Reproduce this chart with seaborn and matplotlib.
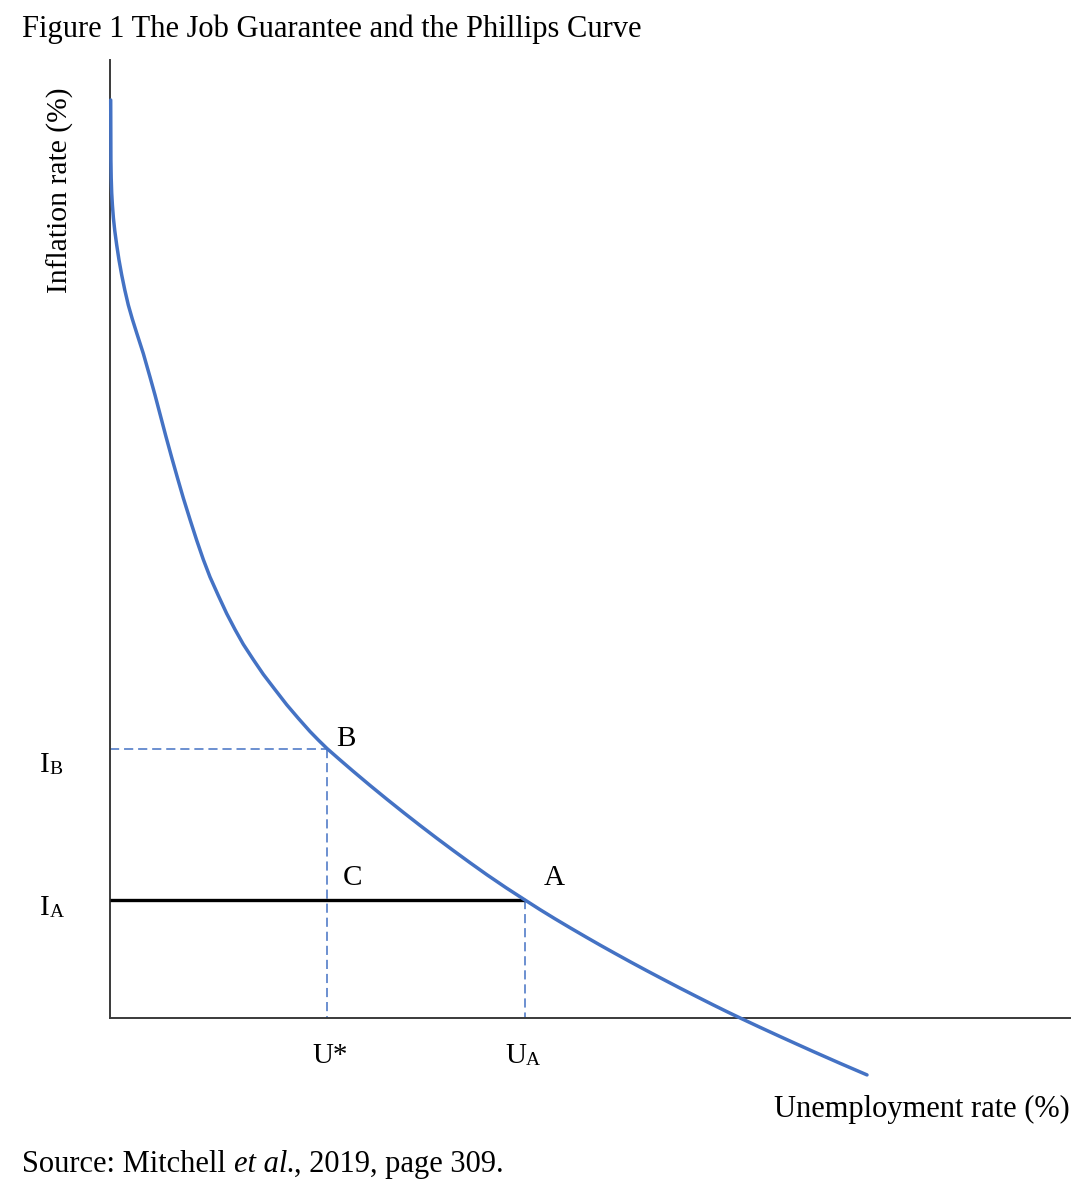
import matplotlib
matplotlib.use("Agg")
import matplotlib.pyplot as plt
import seaborn as sns
import pandas as pd

# ---- data (abstract diagram units) ----
unemployment = [0.07, 0.08, 0.09, 0.12, 0.17, 0.24, 0.34, 0.48, 0.67, 0.9, 1.17, 1.48,
                1.83, 2.23, 2.67, 3.33, 4.0, 4.5, 5.0, 5.58, 6.17, 6.75, 7.33, 8.0,
                8.67, 9.33, 10.0, 10.83, 11.67, 12.5, 13.33, 14.33, 15.33, 16.5, 17.67,
                18.83, 20.0, 20.85, 21.7,
                23.0, 24.3, 26.0, 27.7, 29.35, 31.0, 32.65, 34.3, 36.0, 37.7, 39.6,
                41.5, 43.0, 44.5, 46.1, 47.7, 49.1, 50.5, 52.1, 53.7, 55.35, 57.0,
                58.65, 60.3, 61.7, 63.1, 65.0, 67.0, 68.7, 70.3, 73.0, 75.7]
inflation = [91.8, 88.8, 85.8, 84.0, 82.5, 81.3, 80.0, 78.7, 77.3, 75.8, 74.3, 72.8,
             71.3, 69.9, 68.5, 66.45, 64.1, 62.3, 60.4, 58.2, 56.05, 54.0, 52.0, 49.85,
             47.77, 45.85, 44.1, 42.25, 40.44, 38.85, 37.37, 35.84, 34.37, 32.84, 31.33,
             29.97, 28.65, 27.78, 26.95,
             25.81, 24.69, 23.26, 21.87, 20.55, 19.26, 18.0, 16.77, 15.53, 14.32, 13.03,
             11.8, 10.84, 9.92, 8.97, 8.04, 7.24, 6.46, 5.58, 4.72, 3.85, 2.99,
             2.15, 1.32, 0.63, -0.04, -0.93, -1.85, -2.62, -3.34, -4.53, -5.69]
point_B = (21.7, 26.95)   # (U*, I_B)
point_A = (41.5, 11.8)    # (U_A, I_A)
x_axis_max = 96.0
y_axis_max = 95.8

title = "Figure 1 The Job Guarantee and the Phillips Curve"
x_label = "Unemployment rate (%)"
y_label = "Inflation rate (%)"

BLUE = "#4472C4"
SERIF = ["Liberation Serif", "DejaVu Serif"]

sns.set_style("white")
plt.rcParams["font.family"] = SERIF
plt.rcParams["text.color"] = "black"

fig = plt.figure(figsize=(10.91, 12), dpi=100)
ax = fig.add_axes([0, 0, 1, 1])
ax.set_xlim(-11.0, 98.1)
ax.set_ylim(-18.2, 101.8)
ax.set_xticks([])
ax.set_yticks([])

for s in ["top", "right"]:
    ax.spines[s].set_visible(False)
for s in ["left", "bottom"]:
    ax.spines[s].set_position(("data", 0))
    ax.spines[s].set_color("#3a3a3a")
    ax.spines[s].set_linewidth(1.4)
ax.spines["left"].set_bounds(0, y_axis_max)
ax.spines["bottom"].set_bounds(0, x_axis_max)

# guide lines
bx, by = point_B
axx, ayy = point_A
dash = (6, 3.2)
ax.plot([0, bx], [by, by], color=BLUE, lw=1.1, dashes=dash, zorder=2)
ax.plot([bx, bx], [by, 0], color=BLUE, lw=1.1, dashes=dash, zorder=2)
ax.plot([axx, axx], [ayy, 0], color=BLUE, lw=1.1, dashes=dash, zorder=2)
ax.plot([0, axx], [ayy, ayy], color="black", lw=2.4, zorder=3, solid_capstyle="butt")

df = pd.DataFrame({"u": unemployment, "i": inflation})
sns.lineplot(data=df, x="u", y="i", sort=False, estimator=None, color=BLUE,
             lw=2.5, ax=ax, zorder=4)
ax.set_xlabel("")
ax.set_ylabel("")

FS = 21
SUB = 14

def lab(text, xy, off, ha="left"):
    return ax.annotate(text, xy=xy, xytext=off, textcoords="offset pixels",
                       ha=ha, va="baseline", fontsize=FS, color="black")

def sub(parent, text):
    return ax.annotate(text, xy=(1, 0), xycoords=parent, ha="left", va="bottom",
                       fontsize=SUB, color="black")

lab("B", point_B, (9, 2))
lab("C", (bx, ayy), (16, 15))
lab("A", point_A, (19, 15))
lab("U*", (bx, 0), (3, -45), ha="center")
tU = lab("U", (axx, 0), (-20, -45))
sub(tU, "A")
tIB = lab("I", (0, by), (-70, -24))
sub(tIB, "B")
tIA = lab("I", (0, ayy), (-70, -15))
sub(tIA, "A")

fig.text(22 / 1091, 1 - 37 / 1200, title, fontsize=22, ha="left", va="baseline",
         color="black")
fig.text(1070 / 1091, 1 - 1117 / 1200, x_label, fontsize=22, ha="right",
         va="baseline", color="black")
fig.text(60 / 1091, 1 - 190 / 1200, y_label, fontsize=21.3, rotation=90,
         ha="center", va="center", color="black")

t1 = fig.text(22 / 1091, 1 - 1172 / 1200, "Source: Mitchell ", fontsize=22,
              ha="left", va="baseline", color="black")
t2 = ax.annotate("et al.", xy=(1, 0), xycoords=t1, ha="left", va="bottom",
                 fontsize=22, style="italic", color="black")
ax.annotate(", 2019, page 309.", xy=(1, 0), xycoords=t2, ha="left", va="bottom",
            fontsize=22, color="black")

fig.savefig("out.png", dpi=100)
